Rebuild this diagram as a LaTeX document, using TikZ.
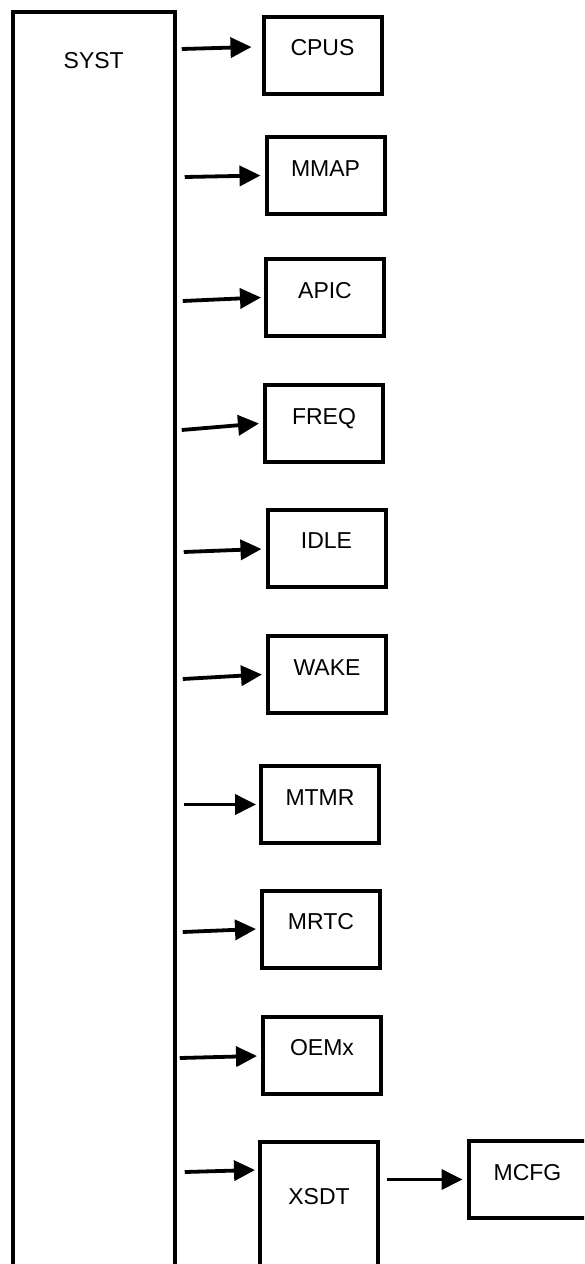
\documentclass[tikz,border=0pt]{standalone}
\usepackage{fontspec}
\setmainfont{Liberation Sans}
\usetikzlibrary{arrows.meta}

\begin{document}
\begin{tikzpicture}[
  x=0.5pt,y=-0.5pt,
  font=\fontsize{11.5}{13}\selectfont,
  box/.style={draw,line width=2pt,minimum width=59pt,minimum height=38.5pt,text height=8.2pt,text depth=7.5pt},
  tall/.style={box,anchor=north,inner ysep=0pt},
  arr/.style={-{Triangle[length=10.5pt,width=10pt]},line width=1.9pt}]
  \clip (0,0) rectangle (584,1264);
  \node[tall,minimum width=81pt,text height=28.6pt,text depth=616pt] (syst) at (93.75,9.7) {SYST};
  \node[box] (cpus) at (322.5,55) {CPUS};
  \node[box] (mmap) at (325.5,175.5) {MMAP};
  \node[box] (apic) at (325,297.5) {APIC};
  \node[box] (freq) at (324,423.5) {FREQ};
  \node[box] (idle) at (326.5,548) {IDLE};
  \node[box] (wake) at (327,674.5) {WAKE};
  \node[box] (mtmr) at (320,804.5) {MTMR};
  \node[box] (mrtc) at (321,929) {MRTC};
  \node[box] (oemx) at (322,1055) {OEMx};
  \node[tall,text height=31.4pt,text depth=48.6pt] (xsdt) at (319,1139.5) {XSDT};
  \node[box] (mcfg) at (527.5,1179.5) {MCFG};

  \draw[arr] ([xshift=2.5pt,yshift=3pt]syst.east |- cpus.west) -- ([xshift=-5pt,yshift=4pt]cpus.west);
  \draw[arr] ([xshift=4pt,yshift=-0.75pt]syst.east |- mmap.west) -- ([xshift=-2pt]mmap.west);
  \draw[arr] ([xshift=3pt,yshift=-1.75pt]syst.east |- apic.west) -- ([xshift=-1.5pt]apic.west);
  \draw[arr] ([xshift=2.5pt,yshift=-3.25pt]syst.east |- freq.west) -- ([xshift=-2pt]freq.west);
  \draw[arr] ([xshift=3.5pt,yshift=-2pt]syst.east |- idle.west) -- ([xshift=-2pt,yshift=-0.5pt]idle.west);
  \draw[arr] ([xshift=3pt,yshift=-2.25pt]syst.east |- wake.west) -- ([xshift=-2pt]wake.west);
  \draw[arr] ([xshift=3.5pt]syst.east |- mtmr.west) -- ([xshift=-1.5pt]mtmr.west);
  \draw[arr] ([xshift=3pt,yshift=-1.5pt]syst.east |- mrtc.west) -- ([xshift=-2pt]mrtc.west);
  \draw[arr] ([xshift=1.5pt,yshift=-1.5pt]syst.east |- oemx.west) -- ([xshift=-2pt,yshift=-0.5pt]oemx.west);
  \draw[arr] ([xshift=4pt,yshift=-16.25pt]syst.east |- xsdt.north west) -- ([xshift=-1.5pt,yshift=-15.25pt]xsdt.north west);
  \draw[arr] ([xshift=3.25pt]xsdt.east |- mcfg.west) -- ([xshift=-2pt]mcfg.west);
\end{tikzpicture}
\end{document}
